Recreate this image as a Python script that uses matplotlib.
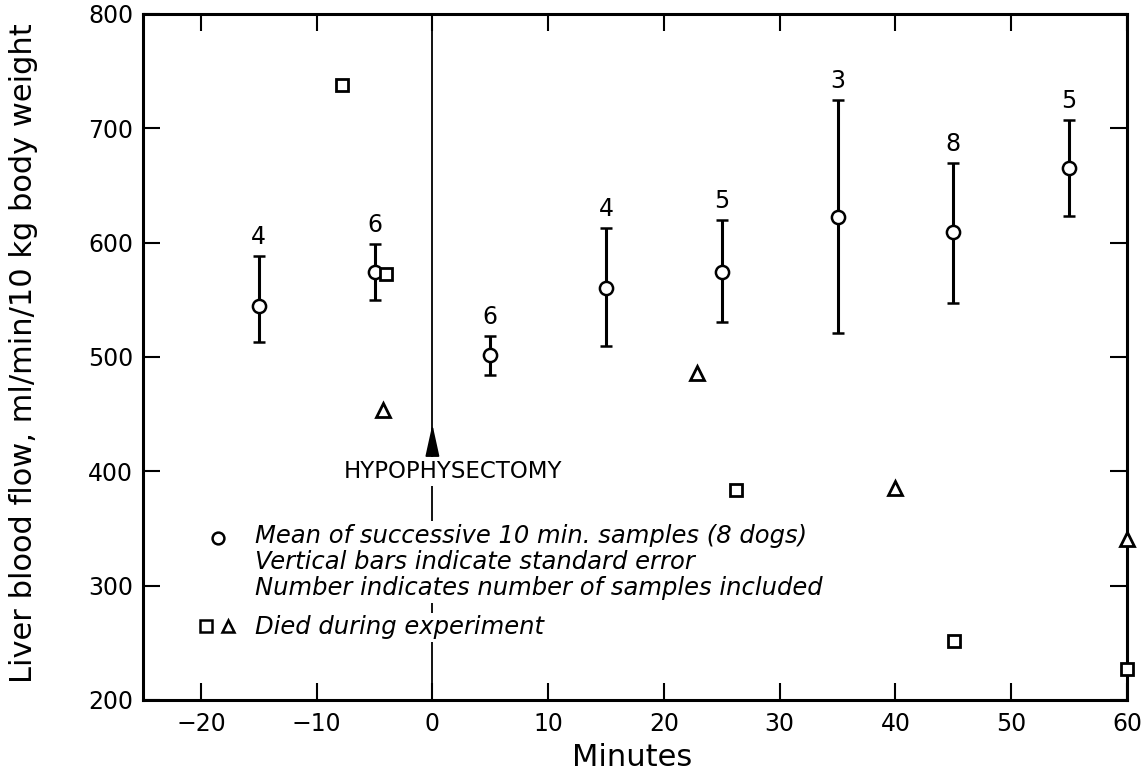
import matplotlib
matplotlib.use('Agg')
import matplotlib.pyplot as plt

# Means of successive 10 min samples
minutes = [-15, -5, 5, 15, 25, 35, 45, 55]
mean_flow = [545, 574, 502, 560, 574, 622, 609, 665]
upper_se = [588, 599, 518, 613, 620, 725, 670, 707]
lower_se = [513, 550, 484, 510, 531, 521, 547, 623]
n_samples = [4, 6, 6, 4, 5, 3, 8, 5]

# Dogs that died during experiment
died_sq_x = [-7.8, -4.0, 26.2, 45.1, 60]
died_sq_y = [738, 573, 384, 252, 227]
died_tri_x = [-4.3, 22.9, 40, 60]
died_tri_y = [454, 486, 385, 341]

x_ticks = [-20, -10, 0, 10, 20, 30, 40, 50, 60]
y_ticks = [200, 300, 400, 500, 600, 700, 800]

plt.rcParams['font.family'] = ['DejaVu Sans']

fig = plt.figure(figsize=(11.48, 7.8), dpi=100)
ax = fig.add_axes([0.1246, 0.1026, 0.857, 0.8795])

ax.axvline(0, color='black', lw=1.3, zorder=1)

yerr = [[m - lo for m, lo in zip(mean_flow, lower_se)],
        [up - m for m, up in zip(mean_flow, upper_se)]]
ax.errorbar(minutes, mean_flow, yerr=yerr, fmt='o', color='black',
            mfc='white', mec='black', ms=9.5, mew=1.8, elinewidth=2.2,
            capsize=4.6, capthick=2.4, zorder=4)

for x, up, n in zip(minutes, upper_se, n_samples):
    ax.annotate(str(n), (x, up), xytext=(0, 5), textcoords='offset points',
                ha='center', va='bottom', fontsize=17)

ax.plot(died_sq_x, died_sq_y, 's', ms=9, mfc='white', mec='black',
        mew=2, clip_on=False, zorder=5)
ax.plot(died_tri_x, died_tri_y, '^', ms=9.5, mfc='white', mec='black',
        mew=2, clip_on=False, zorder=5)

# Hypophysectomy marker
ax.annotate('', xy=(0, 441), xytext=(0, 412),
            arrowprops=dict(arrowstyle='-|>,head_length=1.0,head_width=0.22',
                            mutation_scale=20, lw=1.2, color='black',
                            shrinkA=0, shrinkB=0))
ax.text(1.8, 400, 'HYPOPHYSECTOMY', ha='center', va='center', fontsize=16.5,
        bbox=dict(facecolor='white', edgecolor='none', pad=2))

# Key
wbox = dict(facecolor='white', edgecolor='none', pad=2)
key_fs = 17.5
ax.plot([0.0762], [0.236], 'o', ms=8.5, mfc='white', mec='black', mew=1.8,
        transform=ax.transAxes)
ax.text(0.1138, 0.239, 'Mean of successive 10 min. samples (8 dogs)',
        transform=ax.transAxes, style='italic', fontsize=key_fs, va='center',
        bbox=wbox)
ax.text(0.1138, 0.201, 'Vertical bars indicate standard error',
        transform=ax.transAxes, style='italic', fontsize=key_fs, va='center',
        bbox=wbox)
ax.text(0.1138, 0.163, 'Number indicates number of samples included',
        transform=ax.transAxes, style='italic', fontsize=key_fs, va='center',
        bbox=wbox)
ax.plot([0.064], [0.108], 's', ms=9, mfc='white', mec='black', mew=1.8,
        transform=ax.transAxes)
ax.plot([0.0864], [0.108], '^', ms=9, mfc='white', mec='black', mew=1.8,
        transform=ax.transAxes)
ax.text(0.1138, 0.106, 'Died during experiment',
        transform=ax.transAxes, style='italic', fontsize=key_fs, va='center',
        bbox=wbox)

ax.set_xlim(-25, 60)
ax.set_ylim(200, 800)
ax.set_xticks(x_ticks)
ax.set_yticks(y_ticks)
ax.tick_params(direction='in', top=True, right=True, length=12, width=1.5,
               labelsize=17)
ax.tick_params(axis='x', pad=9)
ax.tick_params(axis='y', pad=7)
for s in ax.spines.values():
    s.set_linewidth(2.2)

ax.set_xlabel('Minutes', fontsize=22)
ax.set_ylabel('Liver blood flow, ml/min/10 kg body weight', fontsize=22)
ax.xaxis.set_label_coords(0.497, -0.063)
ax.yaxis.set_label_coords(-0.107, 0.505)

fig.savefig('out.png', dpi=100)
